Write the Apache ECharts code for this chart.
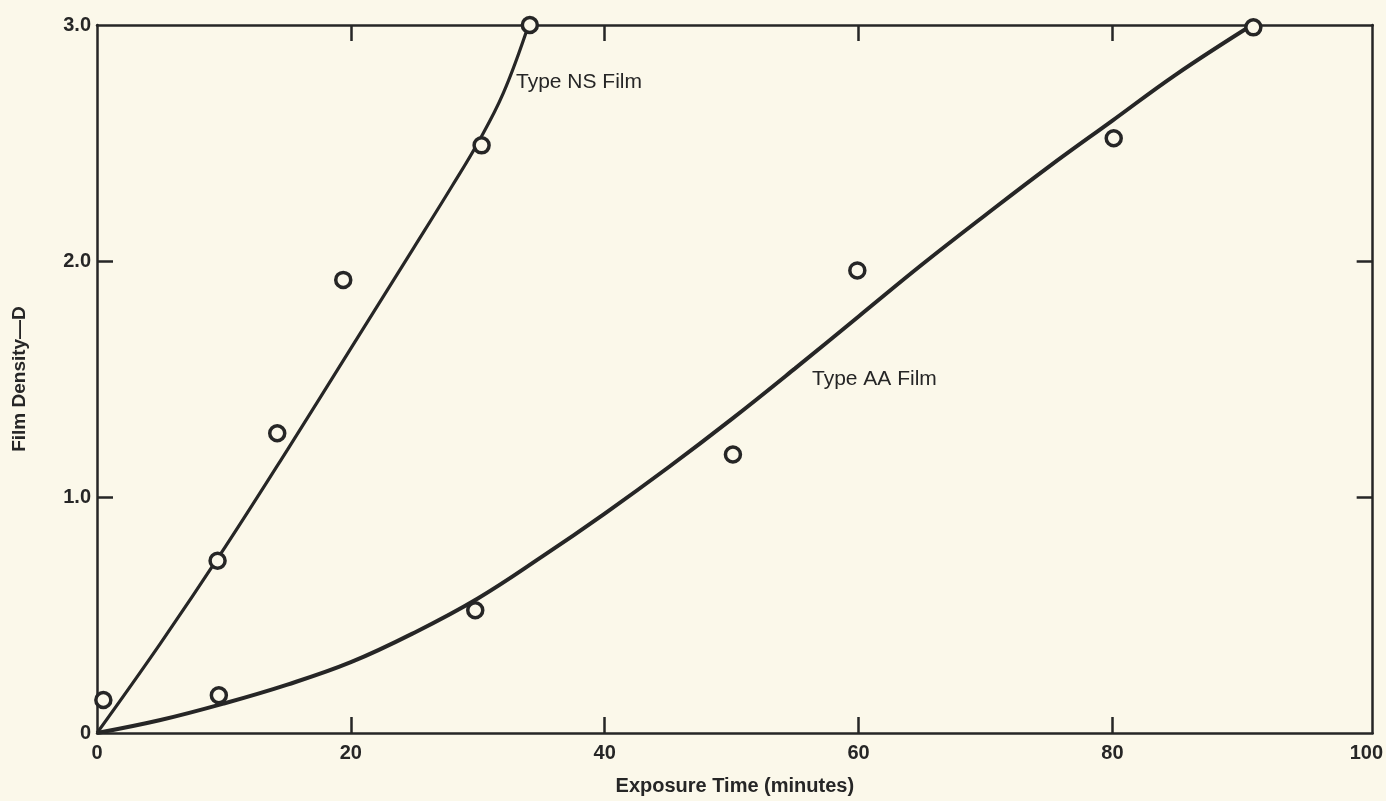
<!DOCTYPE html>
<html>
<head>
<meta charset="utf-8">
<script src="https://cdn.jsdelivr.net/npm/echarts@6/dist/echarts.min.js"></script>
<style>
html,body{margin:0;padding:0;background:#fbf8ea;}
#c{width:1386px;height:801px;}
</style>
</head>
<body>
<div id="c"></div>
<script>
// Measured points (exposure time in minutes, film density D)
const nsPoints = [[0.5,0.14],[9.5,0.73],[14.2,1.27],[19.4,1.92],[30.3,2.49],[34.1,3.0]];
const aaPoints = [[9.6,0.16],[29.8,0.52],[50.1,1.18],[59.9,1.96],[80.1,2.52],[91.1,2.99]];
// Fitted curves
const nsCurve = [[0,0],[5,0.38],[10,0.78],[15,1.2],[20,1.63],[25,2.06],[28,2.32],[30,2.5],[32,2.71],[34,3.0]];
const aaCurve = [[0,0],[5,0.055],[10,0.125],[15,0.205],[20,0.3],[25,0.425],[30,0.57],[35,0.745],[40,0.93],[45,1.125],
                 [50,1.33],[55,1.545],[60,1.765],[65,1.985],[70,2.195],[75,2.4],[80,2.595],[85,2.79],[91,3.0]];
const xTickLabels = [0,20,40,60,80,100];
const xInnerTicks = [20,40,60,80];
const yTickLabels = [0,1,2,3];
const yInnerTicks = [1,2];
const labels = {ns:'Type NS Film', aa:'Type AA Film'};

const ink = '#262626';
const bg = '#fbf8ea';
const chart = echarts.init(document.getElementById('c'));
function axisBase(tickVals){
  return {
    type:'value', splitLine:{show:false},
    axisLine:{show:true, onZero:false, lineStyle:{color:ink, width:2.5}},
    axisTick:{show:true, inside:true, length:16, customValues:tickVals, lineStyle:{color:ink, width:2.5}}
  };
}
const labelFont = {color:ink, fontFamily:'Liberation Sans', fontWeight:'bold', fontSize:20};
chart.setOption({
  backgroundColor:bg,
  animation:false,
  grid:{left:97, right:13, top:25, bottom:63},
  xAxis:[
    Object.assign(axisBase(xInnerTicks), {
      position:'bottom', min:0, max:100.5,
      name:'Exposure Time (minutes)', nameLocation:'middle', nameGap:43,
      nameTextStyle:{color:ink, fontFamily:'Liberation Sans', fontWeight:'bold', fontSize:20},
      axisLabel:Object.assign({}, labelFont, {margin:10, customValues:xTickLabels})
    }),
    Object.assign(axisBase(xInnerTicks), {
      position:'top', min:0, max:100.5, axisLabel:{show:false}
    })
  ],
  yAxis:[
    Object.assign(axisBase(yInnerTicks), {
      position:'left', min:0, max:3,
      name:'Film Density\u2014D', nameLocation:'middle', nameGap:68, nameRotate:90,
      nameTextStyle:{color:ink, fontFamily:'Liberation Sans', fontWeight:'bold', fontSize:19},
      axisLabel:Object.assign({}, labelFont, {margin:6, customValues:yTickLabels,
        formatter:v=> v===0 ? '0' : v.toFixed(1)})
    }),
    Object.assign(axisBase(yInnerTicks), {
      position:'right', min:0, max:3, axisLabel:{show:false}
    })
  ],
  series:[
    {type:'line', data:nsCurve, smooth:0.4, symbol:'none', lineStyle:{color:ink, width:3.2}, z:2},
    {type:'line', data:aaCurve, smooth:0.4, symbol:'none', lineStyle:{color:ink, width:4}, z:2},
    {type:'scatter', data:nsPoints, symbol:'circle', symbolSize:15,
      itemStyle:{color:bg, borderColor:ink, borderWidth:3.5, opacity:1}, z:3},
    {type:'scatter', data:aaPoints, symbol:'circle', symbolSize:15,
      itemStyle:{color:bg, borderColor:ink, borderWidth:3.5, opacity:1}, z:3}
  ],
  graphic:[
    {type:'text', left:516, top:72, style:{text:labels.ns, fill:ink, fontFamily:'Liberation Sans', fontSize:21}},
    {type:'text', left:812, top:369, style:{text:labels.aa, fill:ink, fontFamily:'Liberation Sans', fontSize:21}}
  ]
});
</script>
</body>
</html>
